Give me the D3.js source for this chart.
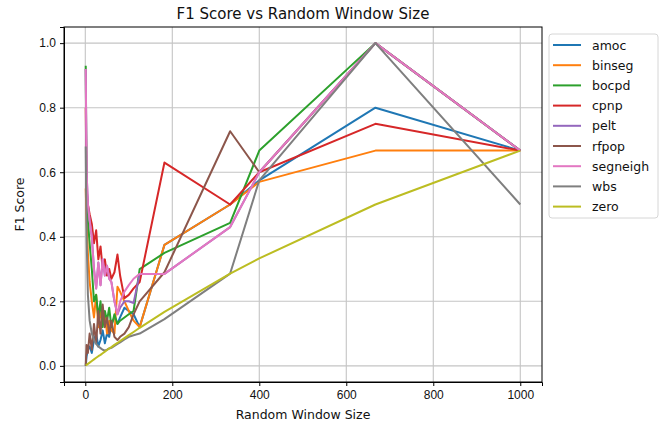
<!DOCTYPE html>
<html>
<head>
<meta charset="utf-8">
<script src="https://cdn.jsdelivr.net/npm/d3@7"></script>
<style>
  body { margin: 0; background: #fff; }
  svg { font-family: 'DejaVu Sans', sans-serif; }
  .grid line { stroke: #c4c4c4; stroke-width: 1.1; }
  .axis path, .axis line { stroke: #000; stroke-width: 1; }
  .axis text { font-size: 12px; fill: #111; }
</style>
</head>
<body>
<svg id="chart" width="672" height="428"></svg>
<script>
// Window sizes on the x axis
var windowSizes = [1, 3, 6, 10, 15, 20, 25, 30, 35, 40, 45, 50, 55, 60, 67, 74, 80, 90, 100, 111, 125, 182, 333, 400, 667, 1000]

var methods = ['amoc', 'binseg', 'bocpd', 'cpnp', 'pelt', 'rfpop', 'segneigh', 'wbs', 'zero']

var amoc = [0.0, 0.03, 0.05, 0.06, 0.04, 0.08, 0.1, 0.06, 0.08, 0.11, 0.07, 0.1, 0.09, 0.13, 0.15, 0.13, 0.15, 0.18, 0.17, 0.16, 0.12, 0.375, 0.5, 0.575, 0.8, 0.667]
var binseg = [0.55, 0.45, 0.35, 0.26, 0.2, 0.15, 0.22, 0.12, 0.17, 0.13, 0.16, 0.1, 0.14, 0.11, 0.1, 0.245, 0.23, 0.2, 0.17, 0.14, 0.12, 0.375, 0.5, 0.57, 0.667, 0.667]
var bocpd = [0.93, 0.55, 0.45, 0.38, 0.3, 0.2, 0.22, 0.15, 0.2, 0.12, 0.17, 0.14, 0.18, 0.12, 0.16, 0.13, 0.14, 0.15, 0.16, 0.17, 0.3, 0.35, 0.443, 0.667, 1.0, 0.667]
var cpnp = [0.8, 0.55, 0.5, 0.47, 0.44, 0.38, 0.42, 0.33, 0.37, 0.3, 0.33, 0.28, 0.3, 0.27, 0.29, 0.345, 0.28, 0.21, 0.22, 0.24, 0.26, 0.63, 0.5, 0.6, 0.75, 0.667]
var pelt = [0.92, 0.6, 0.5, 0.45, 0.4, 0.3, 0.24, 0.32, 0.25, 0.33, 0.28, 0.31, 0.27, 0.26, 0.2, 0.16, 0.18, 0.2, 0.2, 0.195, 0.285, 0.285, 0.43, 0.6, 1.0, 0.667]
var rfpop = [0.0, 0.065, 0.04, 0.1, 0.05, 0.13, 0.07, 0.17, 0.1, 0.19, 0.12, 0.15, 0.1, 0.14, 0.09, 0.08, 0.09, 0.1, 0.12, 0.16, 0.2, 0.29, 0.727, 0.6, 1.0, 0.667]
var segneigh = [0.92, 0.6, 0.5, 0.45, 0.4, 0.3, 0.24, 0.32, 0.25, 0.33, 0.28, 0.31, 0.27, 0.26, 0.2, 0.16, 0.2, 0.23, 0.25, 0.27, 0.285, 0.285, 0.43, 0.6, 1.0, 0.667]
var wbs = [0.68, 0.4, 0.22, 0.14, 0.1, 0.08, 0.068, 0.06, 0.055, 0.05, 0.047, 0.05, 0.054, 0.056, 0.062, 0.068, 0.073, 0.082, 0.09, 0.095, 0.1, 0.145, 0.286, 0.575, 1.0, 0.5]
var zero = [0.001, 0.003, 0.006, 0.01, 0.015, 0.02, 0.025, 0.03, 0.034, 0.039, 0.044, 0.049, 0.054, 0.058, 0.065, 0.071, 0.077, 0.086, 0.095, 0.105, 0.118, 0.167, 0.286, 0.333, 0.5, 0.667]

var xTicks = [0, 200, 400, 600, 800, 1000]
var yTicks = [0.0, 0.2, 0.4, 0.6, 0.8, 1.0]

var conf = {
  left: 64,
  right: 542,
  top: 27,
  bottom: 382
}

var colors = ['#1f77b4', '#ff7f0e', '#2ca02c', '#d62728', '#9467bd', '#8c564b', '#e377c2', '#7f7f7f', '#bcbd22']
var seriesValues = [amoc, binseg, bocpd, cpnp, pelt, rfpop, segneigh, wbs, zero]

var series = methods.map(function (name, i) {
  return {
    name: name,
    color: colors[i],
    points: windowSizes.map(function (w, j) { return { x: w, y: seriesValues[i][j] } })
  }
})

var svg = d3.select('#chart')

var x = d3.scaleLinear()
  .domain([-48.95, 1049.95])
  .range([conf.left, conf.right])

var y = d3.scaleLinear()
  .domain([-0.05, 1.05])
  .range([conf.bottom, conf.top])

// Grid
var grid = svg.append('g').attr('class', 'grid')
grid.selectAll('line.gx')
  .data(xTicks)
  .enter()
  .append('line')
  .attr('x1', function (d) { return x(d) })
  .attr('x2', function (d) { return x(d) })
  .attr('y1', conf.top)
  .attr('y2', conf.bottom)
grid.selectAll('line.gy')
  .data(yTicks)
  .enter()
  .append('line')
  .attr('x1', conf.left)
  .attr('x2', conf.right)
  .attr('y1', function (d) { return y(d) })
  .attr('y2', function (d) { return y(d) })

// Lines
var line = d3.line()
  .x(function (d) { return x(d.x) })
  .y(function (d) { return y(d.y) })

svg.append('g')
  .selectAll('path')
  .data(series)
  .enter()
  .append('path')
  .attr('fill', 'none')
  .attr('stroke', function (d) { return d.color })
  .attr('stroke-width', 2)
  .attr('stroke-linejoin', 'round')
  .attr('d', function (d) { return line(d.points) })

// Axes
svg.append('g')
  .attr('class', 'axis')
  .attr('transform', 'translate(0,' + conf.bottom + ')')
  .call(d3.axisBottom(x).tickValues(xTicks).tickFormat(d3.format('d')).tickSizeOuter(0).tickSize(4).tickPadding(4))

svg.append('g')
  .attr('class', 'axis')
  .attr('transform', 'translate(' + conf.left + ',0)')
  .call(d3.axisLeft(y).tickValues(yTicks).tickFormat(d3.format('.1f')).tickSizeOuter(0).tickSize(4).tickPadding(4))

// Frame
svg.append('rect')
  .attr('x', conf.left)
  .attr('y', conf.top)
  .attr('width', conf.right - conf.left)
  .attr('height', conf.bottom - conf.top)
  .attr('fill', 'none')
  .attr('stroke', '#000')
  .attr('stroke-width', 1)

// Titles
svg.append('text')
  .attr('x', (conf.left + conf.right) / 2)
  .attr('y', 19)
  .attr('text-anchor', 'middle')
  .attr('font-size', 15)
  .attr('fill', '#111')
  .text('F1 Score vs Random Window Size')

svg.append('text')
  .attr('x', (conf.left + conf.right) / 2)
  .attr('y', 419)
  .attr('text-anchor', 'middle')
  .attr('font-size', 12.5)
  .attr('fill', '#111')
  .text('Random Window Size')

svg.append('text')
  .attr('transform', 'translate(24,' + ((conf.top + conf.bottom) / 2) + ') rotate(-90)')
  .attr('text-anchor', 'middle')
  .attr('font-size', 12.5)
  .attr('fill', '#111')
  .text('F1 Score')

// Legend
var legend = svg.append('g').attr('transform', 'translate(549,34)')
legend.append('rect')
  .attr('width', 109)
  .attr('height', 184)
  .attr('rx', 3)
  .attr('fill', '#fff')
  .attr('stroke', '#d6d6d6')

var items = legend.selectAll('g.item')
  .data(series)
  .enter()
  .append('g')
  .attr('class', 'item')
  .attr('transform', function (d, i) { return 'translate(0,' + (11 + i * 20.2) + ')' })

items.append('line')
  .attr('x1', 4)
  .attr('x2', 32)
  .attr('stroke', function (d) { return d.color })
  .attr('stroke-width', 2)

items.append('text')
  .attr('x', 43)
  .attr('y', 4.5)
  .attr('font-size', 12.5)
  .attr('fill', '#111')
  .text(function (d) { return d.name })
</script>
</body>
</html>
